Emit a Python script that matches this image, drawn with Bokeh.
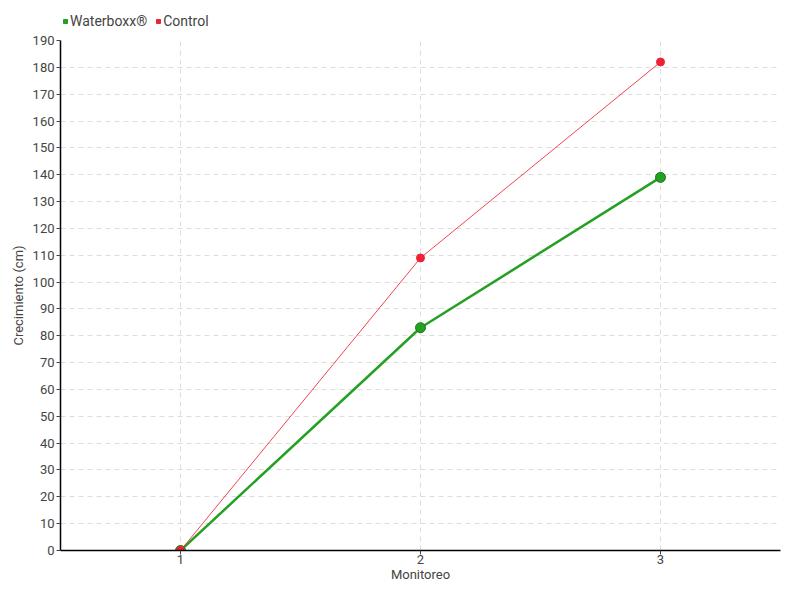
from bokeh.plotting import figure
from bokeh.models import ColumnDataSource, Legend, LegendItem, FixedTicker, Range1d
from bokeh.layouts import column
from bokeh.embed import file_html
from bokeh.resources import INLINE

monitoreo = [1, 2, 3]
waterboxx = [0, 83, 139]
control = [0, 109, 182]
y_ticks = list(range(0, 200, 10))
x_ticks = [1, 2, 3]

FONT = "Roboto"
GREEN = "#24a024"
GREEN_DARK = "#1a7a1a"
RED = "#ee2233"

src = ColumnDataSource(dict(x=monitoreo, w=waterboxx, c=control))

# legend strip
lf = figure(width=784, height=32, output_backend="svg", toolbar_location=None,
            x_axis_location=None, y_axis_location=None, min_border=0,
            x_range=Range1d(100, 101), y_range=Range1d(100, 101))
lf.outline_line_color = None
lf.grid.visible = False
lw = lf.scatter("x", "w", source=src, marker="square", size=0, fill_color=GREEN, line_color=GREEN)
lc = lf.scatter("x", "c", source=src, marker="square", size=0, fill_color=RED, line_color=RED)
legend = Legend(items=[LegendItem(label="Waterboxx®", renderers=[lw]),
                       LegendItem(label="Control", renderers=[lc])],
                orientation="horizontal", location=(0, 3),
                margin=0, padding=0, spacing=6, glyph_width=10, glyph_height=14,
                label_height=14, label_standoff=0,
                label_text_font=FONT, label_text_font_size="14px",
                label_text_color="#444444", border_line_color=None, background_fill_alpha=0)
lf.add_layout(legend)

p = figure(width=784, height=552, output_backend="svg", toolbar_location=None,
           x_range=Range1d(0.5, 3.5), y_range=Range1d(0, 190),
           min_border_left=60, min_border_right=4, min_border_top=8, min_border_bottom=26)
p.outline_line_color = None

p.line("x", "w", source=src, line_color=GREEN, line_width=2.5)
p.scatter("x", "w", source=src, size=10, fill_color=GREEN, line_color=GREEN_DARK, line_width=1)
p.line("x", "c", source=src, line_color=RED, line_width=1, line_alpha=0.85)
p.scatter("x", "c", source=src, size=8, fill_color=RED, line_color=RED)

p.xaxis.ticker = FixedTicker(ticks=x_ticks)
p.yaxis.ticker = FixedTicker(ticks=y_ticks)
p.xaxis.axis_label = "Monitoreo"
p.yaxis.axis_label = "Crecimiento (cm)"
for ax in (p.xaxis, p.yaxis):
    ax.axis_line_color = "black"
    ax.axis_line_width = 1.5
    ax.major_tick_line_color = "#444444"
    ax.major_tick_out = 4
    ax.major_tick_in = 0
    ax.minor_tick_line_color = None
    ax.major_label_text_font = FONT
    ax.major_label_text_font_size = "13px"
    ax.major_label_text_color = "#444444"
    ax.axis_label_text_font = FONT
    ax.axis_label_text_font_size = "13px"
    ax.axis_label_text_font_style = "normal"
    ax.axis_label_text_color = "#444444"
p.xaxis.major_label_standoff = 0
p.xaxis.axis_label_standoff = 0
p.yaxis.major_label_standoff = 2
p.yaxis.axis_label_standoff = 4

p.xgrid.grid_line_color = "#dddddd"
p.xgrid.grid_line_dash = "5 4"
p.ygrid.grid_line_color = "#dddddd"
p.ygrid.grid_line_dash = "5 4"

layout = column(lf, p, spacing=0)
open("out.html", "w").write(file_html(layout, INLINE))
